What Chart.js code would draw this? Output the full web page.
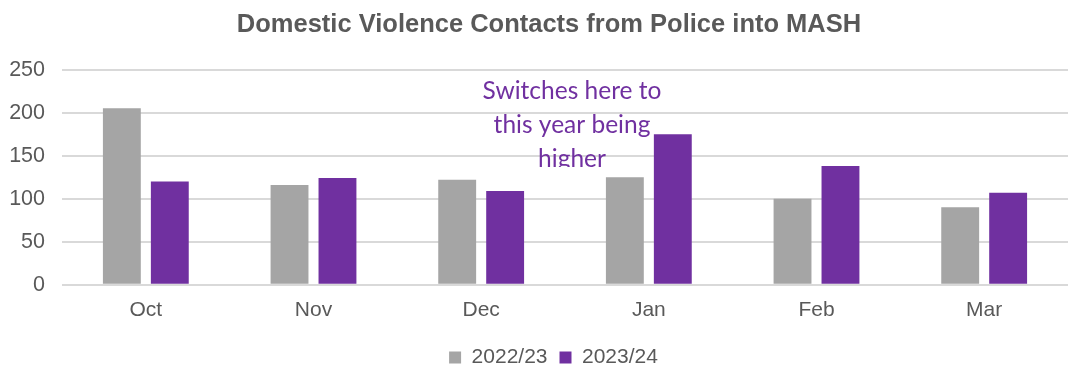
<!DOCTYPE html>
<html lang="en">
<head>
  <meta charset="UTF-8">
  <title>Domestic Violence Contacts</title>
  <script src="https://cdn.jsdelivr.net/npm/chart.js"></script>
  <style>
    body { margin: 0; background: #fff; }
  </style>
</head>
<body>
  <canvas id="dvChart" width="1070" height="372"></canvas>
  <script>
    // monthly contacts, police -> MASH
    const months = ['Oct', 'Nov', 'Dec', 'Jan', 'Feb', 'Mar']
    const lastYear = [205, 116, 122, 125, 100, 90]
    const thisYear = [120, 124, 109, 175, 138, 107]
    const yTicks = [0, 50, 100, 150, 200, 250]
    const noteLines = ['Switches here to', 'this year being', 'higher']

    const axisFont = '"Liberation Sans", Arial, sans-serif'

    // text box over the chart, cut off at its bottom edge
    const notePlugin = {
        id: 'note',
        afterLayout(chart) {
            // title and legend sit a little right of the canvas centre
            chart.titleBlock.left += 30
            chart.legend.left += 39
            chart.legend.top += 6
            chart.legend.bottom += 6
        },
        afterDraw(chart) {
            const ctx = chart.ctx
            ctx.save()
            ctx.beginPath()
            ctx.rect(440, 70, 270, 97)
            ctx.clip()
            ctx.fillStyle = '#7030a0'
            ctx.font = '24.5px Lato, "Open Sans", sans-serif'
            ctx.textAlign = 'center'
            ctx.textBaseline = 'middle'
            noteLines.forEach((line, i) => {
                ctx.fillText(line, 572, 91 + i * 34)
            })
            ctx.restore()
        }
    }

    const ctx = document.getElementById('dvChart')

    new Chart(ctx, {
        type: 'bar',
        data: {
            labels: months,
            datasets: [{
                label: '2022/23',
                data: lastYear,
                backgroundColor: '#a5a5a5',
                categoryPercentage: 0.572,
                barPercentage: 0.79
            }, {
                label: '2023/24',
                data: thisYear,
                backgroundColor: '#7030a0',
                categoryPercentage: 0.572,
                barPercentage: 0.79
            }]
        },
        options: {
            responsive: false,
            animation: false,
            layout: {
                padding: { top: 10, right: 2, bottom: 0, left: 0 }
            },
            plugins: {
                title: {
                    display: true,
                    text: 'Domestic Violence Contacts from Police into MASH',
                    color: '#595959',
                    font: { family: axisFont, size: 25.5, weight: 'bold' },
                    padding: { top: 0, bottom: 29 }
                },
                legend: {
                    position: 'bottom',
                    labels: {
                        color: '#595959',
                        font: { family: axisFont, size: 21 },
                        boxWidth: 12,
                        boxHeight: 12,
                        padding: 12
                    }
                },
                tooltip: { enabled: false }
            },
            scales: {
                x: {
                    afterFit(scale) { scale.height += 1 },
                    grid: { display: false },
                    border: { display: false },
                    ticks: {
                        color: '#595959',
                        font: { family: axisFont, size: 21 },
                        padding: 5
                    }
                },
                y: {
                    min: 0,
                    max: 250,
                    afterFit(scale) { scale.width = 62 },
                    afterBuildTicks(scale) { scale.ticks = yTicks.map(v => ({ value: v })) },
                    grid: { color: '#d9d9d9', lineWidth: 2, drawTicks: false },
                    border: { display: false },
                    ticks: {
                        color: '#595959',
                        font: { family: axisFont, size: 21.5 },
                        padding: 17
                    }
                }
            }
        },
        plugins: [notePlugin]
    })
  </script>
</body>
</html>
